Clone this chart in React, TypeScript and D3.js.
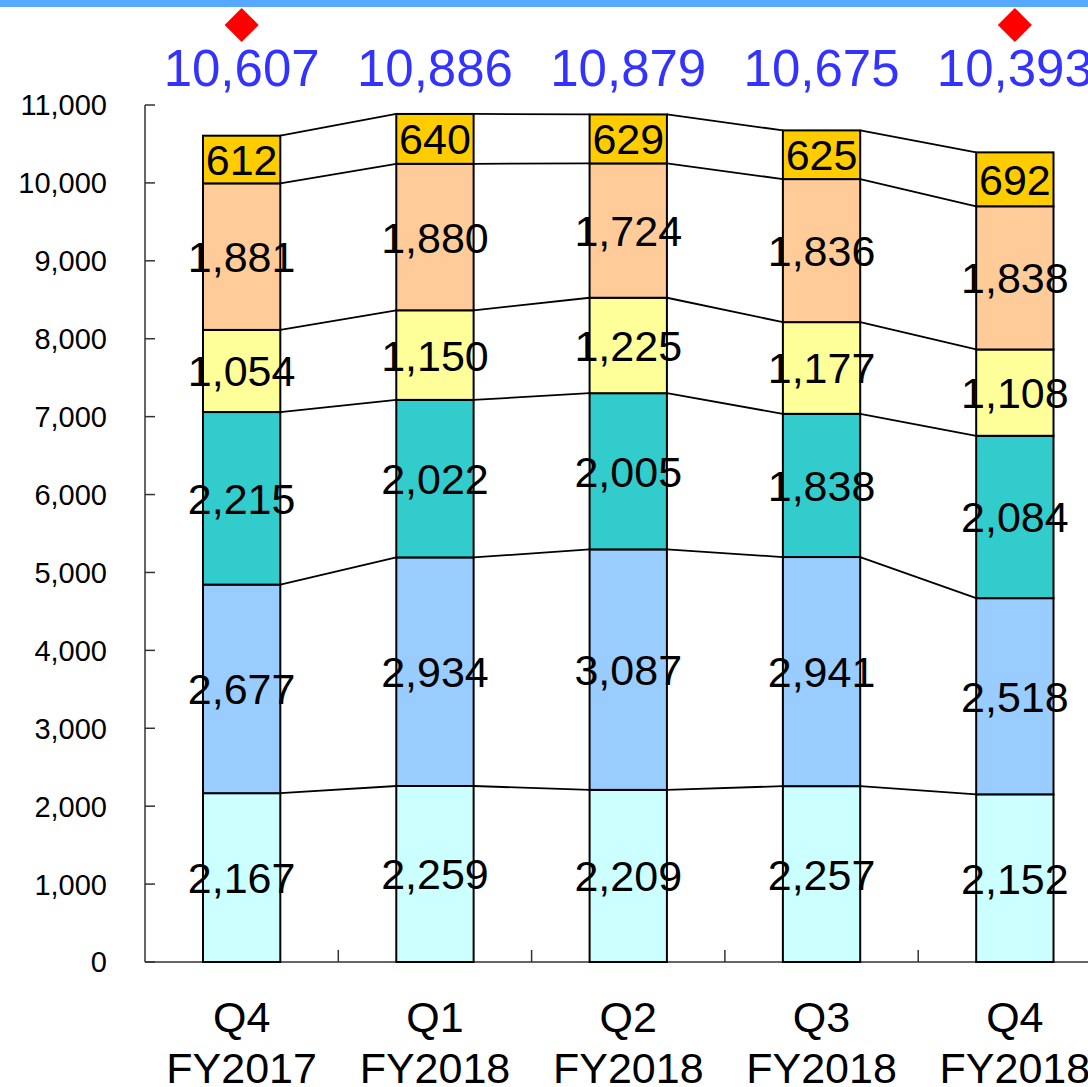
import { useRef, useEffect } from "react";
import * as d3 from "d3";

const quarters = ["Q4", "Q1", "Q2", "Q3", "Q4"];
const years = ["FY2017", "FY2018", "FY2018", "FY2018", "FY2018"];
const totals = ["10,607", "10,886", "10,879", "10,675", "10,393"];
const markedQuarters = [0, 4];

// segments from bottom to top
const seg1 = [2167, 2259, 2209, 2257, 2152];
const seg2 = [2677, 2934, 3087, 2941, 2518];
const seg3 = [2215, 2022, 2005, 1838, 2084];
const seg4 = [1054, 1150, 1225, 1177, 1108];
const seg5 = [1881, 1880, 1724, 1836, 1838];
const seg6 = [612, 640, 629, 625, 692];
const segColors = ["#ccffff", "#99ccff", "#33cccc", "#ffff99", "#ffcc99", "#ffcc00"];

const yTicks = [0, 1000, 2000, 3000, 4000, 5000, 6000, 7000, 8000, 9000, 10000, 11000];

const W = 1088;
const H = 1087;
const FONT = "'Liberation Sans', Arial, Helvetica, sans-serif";

export default function App() {
  const svgRef = useRef<SVGSVGElement>(null);

  useEffect(() => {
    const svg = d3.select(svgRef.current).html(null);
    const left = 145;
    const step = 193.3;
    const bottom = 962;

    const x = d3.scaleBand<number>()
      .domain(d3.range(quarters.length))
      .range([left, left + step * quarters.length])
      .padding(0);
    const y = d3.scaleLinear().domain([0, 11000]).range([bottom, 105]);
    const barW = x.bandwidth() * 0.4;
    const cx = (i: number) => (x(i) as number) + x.bandwidth() / 2;

    const segs = [seg1, seg2, seg3, seg4, seg5, seg6];
    const table = quarters.map((_, i) => {
      const row: any = { i };
      segs.forEach((s, k) => (row["s" + k] = s[i]));
      return row;
    });
    const stacked = d3.stack<any>().keys(segs.map((_, k) => "s" + k))(table);

    // top band
    svg.append("rect").attr("x", 0).attr("y", 0).attr("width", W).attr("height", 7).attr("fill", "#55aaff");

    // axes
    svg.append("line").attr("x1", left).attr("x2", left).attr("y1", y(11000)).attr("y2", bottom)
      .attr("stroke", "#333").attr("stroke-width", 1.5);
    svg.append("line").attr("x1", left).attr("x2", W).attr("y1", bottom).attr("y2", bottom)
      .attr("stroke", "#333").attr("stroke-width", 1.5);
    yTicks.forEach(t => {
      svg.append("line").attr("x1", left).attr("x2", left + 10).attr("y1", y(t)).attr("y2", y(t))
        .attr("stroke", "#333").attr("stroke-width", 1.5);
      svg.append("text").attr("x", 107).attr("y", y(t)).attr("dy", "0.36em")
        .attr("text-anchor", "end").attr("font-family", FONT).attr("font-size", 29)
        .text(d3.format(",")(t));
    });
    d3.range(1, quarters.length).forEach(i => {
      svg.append("line").attr("x1", x(i) as number).attr("x2", x(i) as number)
        .attr("y1", bottom).attr("y2", bottom - 12).attr("stroke", "#333").attr("stroke-width", 1.5);
    });

    // connector lines between bars
    stacked.forEach(layer => {
      for (let i = 0; i < quarters.length - 1; i++) {
        svg.append("line")
          .attr("x1", cx(i) + barW / 2).attr("y1", y(layer[i][1]))
          .attr("x2", cx(i + 1) - barW / 2).attr("y2", y(layer[i + 1][1]))
          .attr("stroke", "#000").attr("stroke-width", 1.8);
      }
    });

    // bars
    stacked.forEach((layer, k) => {
      svg.append("g").selectAll("rect").data(layer).join("rect")
        .attr("x", (_, i) => cx(i) - barW / 2)
        .attr("width", barW)
        .attr("y", d => y(d[1]))
        .attr("height", d => y(d[0]) - y(d[1]))
        .attr("fill", segColors[k])
        .attr("stroke", "#000")
        .attr("stroke-width", 2);
    });

    // segment labels
    stacked.forEach(layer => {
      svg.append("g").selectAll("text").data(layer).join("text")
        .attr("x", (_, i) => cx(i))
        .attr("y", d => y((d[0] + d[1]) / 2))
        .attr("dy", "0.36em")
        .attr("text-anchor", "middle")
        .attr("font-family", FONT)
        .attr("font-size", 43)
        .attr("fill", "#000")
        .text(d => d3.format(",")(d[1] - d[0]));
    });

    // totals
    totals.forEach((t, i) => {
      svg.append("text").attr("x", cx(i)).attr("y", 86).attr("text-anchor", "middle")
        .attr("font-family", FONT).attr("font-size", 51).attr("fill", "#3333ff").text(t);
    });

    // diamonds
    const diamond = d3.symbol().type(d3.symbolSquare).size(580);
    markedQuarters.forEach(i => {
      svg.append("path").attr("d", diamond()!)
        .attr("transform", `translate(${cx(i)},25) rotate(45)`)
        .attr("fill", "#ff0000");
    });

    // category labels
    quarters.forEach((q, i) => {
      svg.append("text").attr("x", cx(i)).attr("y", 1032).attr("text-anchor", "middle")
        .attr("font-family", FONT).attr("font-size", 43).text(q);
      svg.append("text").attr("x", cx(i)).attr("y", 1083).attr("text-anchor", "middle")
        .attr("font-family", FONT).attr("font-size", 43).text(years[i]);
    });
  }, []);

  return (
    <svg
      ref={svgRef}
      width={W}
      height={H}
      style={{ position: "absolute", left: 0, top: 0, background: "#fff", overflow: "hidden" }}
    />
  );
}
